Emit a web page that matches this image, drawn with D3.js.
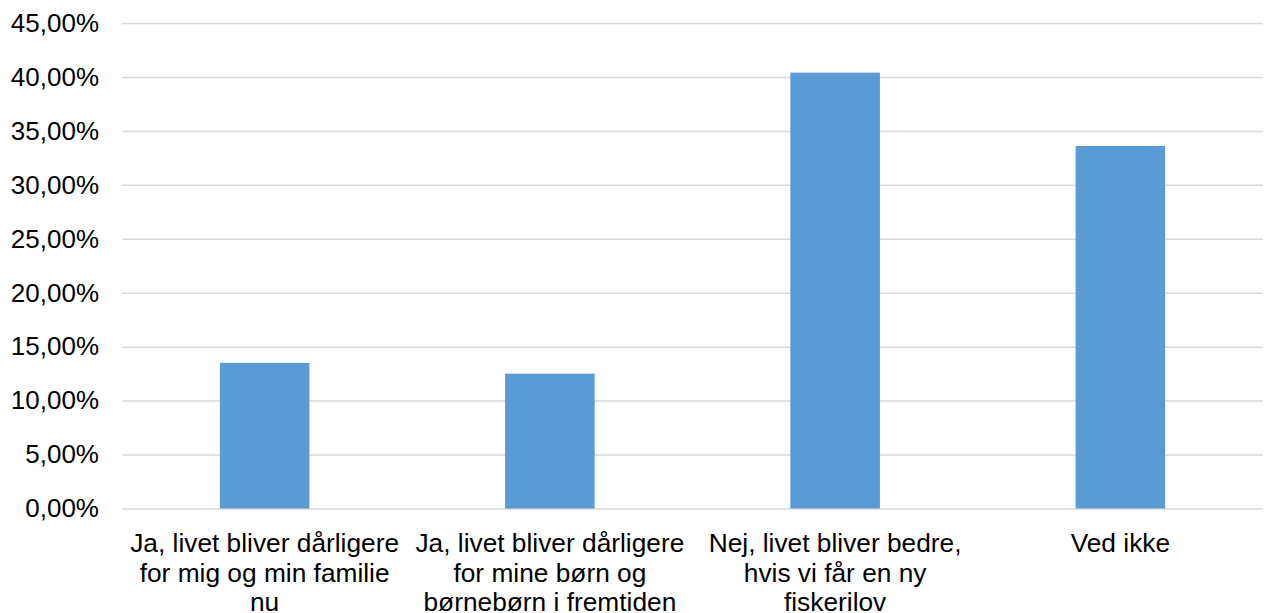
<!DOCTYPE html>
<html>
<head>
<meta charset="utf-8">
<script src="https://cdn.jsdelivr.net/npm/d3@7"></script>
<style>
  html, body { margin: 0; padding: 0; background: #fff; }
  svg { display: block; font-family: "Liberation Sans", Arial, sans-serif; }
</style>
</head>
<body>
<svg id="chart" width="1269" height="613"></svg>
<script>
const categories = [
  "Ja, livet bliver dårligere\nfor mig og min familie\nnu",
  "Ja, livet bliver dårligere\nfor mine børn og\nbørnebørn i fremtiden",
  "Nej, livet bliver bedre,\nhvis vi får en ny\nfiskerilov",
  "Ved ikke"
];
const values = [0.135, 0.125, 0.404, 0.336];
const yTicks = [0, 0.05, 0.10, 0.15, 0.20, 0.25, 0.30, 0.35, 0.40, 0.45];

const svg = d3.select("#chart");
const margin = { left: 122, right: 6, top: 23, bottom: 104.5 };
const W = 1269, H = 613;

const x = d3.scaleBand()
  .domain(categories)
  .range([margin.left, W - margin.right])
  .paddingInner(0.686)
  .paddingOuter(0.343);

const y = d3.scaleLinear()
  .domain([0, 0.45])
  .range([H - margin.bottom, margin.top]);

const fmt = v => (v * 100).toFixed(2).replace(".", ",") + "%";

// gridlines + tick labels
const yAxis = d3.axisLeft(y)
  .tickValues(yTicks)
  .tickSize(-(W - margin.right - margin.left))
  .tickFormat(fmt)
  .tickPadding(23);

const gy = svg.append("g")
  .attr("transform", `translate(${margin.left},0)`)
  .call(yAxis);
gy.select(".domain").remove();
gy.selectAll(".tick line").attr("stroke", "#d9d9d9").attr("stroke-width", 1.5);
gy.selectAll(".tick text")
  .attr("fill", "#000")
  .style("font-size", "26px")
  .style("font-family", '"Liberation Sans", Arial, sans-serif');

// bars
svg.append("g").selectAll("rect")
  .data(categories)
  .join("rect")
  .attr("x", d => x(d))
  .attr("width", x.bandwidth())
  .attr("y", (d, i) => y(values[i]))
  .attr("height", (d, i) => y(0) - y(values[i]))
  .attr("fill", "#5b9bd5");

// category labels
const gx = svg.append("g");
categories.forEach(c => {
  const lines = c.split("\n");
  const t = gx.append("text")
    .attr("text-anchor", "middle")
    .attr("font-size", 26.3)
    .attr("fill", "#000");
  lines.forEach((ln, j) => {
    t.append("tspan")
      .attr("x", x(c) + x.bandwidth() / 2)
      .attr("y", y(0) + 43.8 + j * 29.5)
      .text(ln);
  });
});
</script>
</body>
</html>
